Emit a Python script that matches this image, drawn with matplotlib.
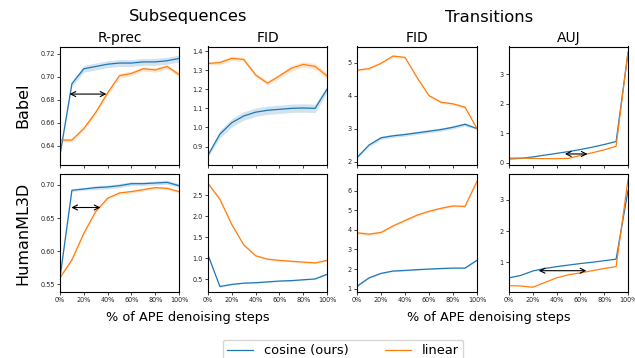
import numpy as np
import matplotlib
matplotlib.use("Agg")
import matplotlib.pyplot as plt
from matplotlib.ticker import FuncFormatter, FixedLocator

# ---------------- data ----------------
steps = [0, 10, 20, 30, 40, 50, 60, 70, 80, 90, 100]
series_names = ["cosine (ours)", "linear"]
col_titles = ["R-prec", "FID", "FID", "AUJ"]
row_titles = ["Babel", "HumanML3D"]
group_titles = ["Subsequences", "Transitions"]
xlabel_text = "% of APE denoising steps"

# Babel
babel_rprec_cos = [0.632, 0.694, 0.707, 0.709, 0.711, 0.712, 0.712, 0.713, 0.713, 0.714, 0.716]
babel_rprec_lin = [0.645, 0.645, 0.655, 0.669, 0.686, 0.701, 0.703, 0.707, 0.706, 0.709, 0.702]
babel_rprec_cos_sd = [0.001, 0.002, 0.003, 0.003, 0.003, 0.003, 0.003, 0.003, 0.003, 0.003, 0.003]
babel_rprec_lin_sd = [0.0015, 0.0015, 0.002, 0.002, 0.002, 0.002, 0.002, 0.002, 0.002, 0.002, 0.002]

babel_sfid_cos = [0.855, 0.965, 1.025, 1.060, 1.080, 1.090, 1.095, 1.100, 1.102, 1.100, 1.200]
babel_sfid_lin = [1.335, 1.340, 1.362, 1.356, 1.275, 1.232, 1.270, 1.310, 1.330, 1.320, 1.270]
babel_sfid_cos_sd = [0.010, 0.020, 0.022, 0.022, 0.022, 0.022, 0.022, 0.022, 0.022, 0.022, 0.018]
babel_sfid_lin_sd = [0.008, 0.010, 0.012, 0.010, 0.010, 0.010, 0.012, 0.015, 0.015, 0.015, 0.015]

babel_tfid_cos = [2.12, 2.50, 2.72, 2.78, 2.82, 2.87, 2.92, 2.97, 3.04, 3.13, 3.00]
babel_tfid_lin = [4.77, 4.82, 4.98, 5.20, 5.16, 4.55, 4.00, 3.80, 3.75, 3.65, 3.00]
babel_tfid_cos_sd = [0.03, 0.05, 0.05, 0.05, 0.05, 0.05, 0.05, 0.05, 0.05, 0.05, 0.03]
babel_tfid_lin_sd = [0.03, 0.03, 0.03, 0.04, 0.03, 0.03, 0.03, 0.04, 0.04, 0.04, 0.03]

babel_auj_cos = [0.13, 0.15, 0.20, 0.26, 0.32, 0.38, 0.45, 0.53, 0.62, 0.72, 3.72]
babel_auj_lin = [0.16, 0.16, 0.15, 0.14, 0.14, 0.15, 0.25, 0.34, 0.44, 0.56, 3.76]

# HumanML3D
hml_rprec_cos = [0.560, 0.692, 0.694, 0.696, 0.697, 0.699, 0.702, 0.702, 0.703, 0.704, 0.699]
hml_rprec_lin = [0.560, 0.587, 0.627, 0.660, 0.680, 0.688, 0.690, 0.693, 0.696, 0.695, 0.690]
hml_rprec_cos_sd = [0.001, 0.002, 0.002, 0.003, 0.003, 0.003, 0.003, 0.003, 0.003, 0.003, 0.003]
hml_rprec_lin_sd = [0.001, 0.002, 0.002, 0.002, 0.002, 0.002, 0.002, 0.002, 0.002, 0.002, 0.002]

hml_sfid_cos = [1.08, 0.33, 0.38, 0.41, 0.42, 0.44, 0.46, 0.47, 0.49, 0.51, 0.62]
hml_sfid_lin = [2.78, 2.40, 1.80, 1.32, 1.06, 0.98, 0.95, 0.93, 0.91, 0.89, 0.95]
hml_sfid_cos_sd = [0.01, 0.01, 0.01, 0.01, 0.01, 0.01, 0.01, 0.01, 0.01, 0.01, 0.01]
hml_sfid_lin_sd = [0.03, 0.03, 0.02, 0.02, 0.02, 0.02, 0.02, 0.02, 0.02, 0.02, 0.02]

hml_tfid_cos = [1.12, 1.55, 1.78, 1.90, 1.93, 1.97, 2.00, 2.03, 2.05, 2.05, 2.45]
hml_tfid_lin = [3.85, 3.78, 3.87, 4.20, 4.48, 4.75, 4.95, 5.10, 5.22, 5.20, 6.48]
hml_tfid_cos_sd = [0.03, 0.03, 0.03, 0.03, 0.03, 0.03, 0.03, 0.03, 0.03, 0.03, 0.03]
hml_tfid_lin_sd = [0.06, 0.08, 0.05, 0.05, 0.05, 0.05, 0.05, 0.05, 0.05, 0.05, 0.05]

hml_auj_cos = [0.50, 0.58, 0.72, 0.80, 0.86, 0.91, 0.96, 1.00, 1.05, 1.10, 3.30]
hml_auj_lin = [0.25, 0.24, 0.20, 0.35, 0.50, 0.60, 0.66, 0.73, 0.80, 0.86, 3.65]

# arrows: (x_start, x_end, y)
arrow_babel_rprec = (8, 39, 0.685)
arrow_babel_auj = (47, 66, 0.30)
arrow_hml_rprec = (9.5, 34, 0.666)
arrow_hml_auj = (25, 65, 0.73)

# y axis settings
ylims = [[(0.6237, 0.7264), (0.806, 1.424), (1.91, 5.49), (-0.057, 3.94)],
         [(0.5384, 0.7166), (0.20, 3.00), (0.83, 6.85), (0.047, 3.83)]]
yticks = [[[0.64, 0.66, 0.68, 0.70, 0.72], [0.9, 1.0, 1.1, 1.2, 1.3, 1.4], [2, 3, 4, 5], [0, 1, 2, 3]],
          [[0.55, 0.60, 0.65, 0.70], [0.5, 1.0, 1.5, 2.0, 2.5], [1, 2, 3, 4, 5, 6], [1, 2, 3]]]
yfmt = [["{:.2f}", "{:.1f}", "{:.0f}", "{:.0f}"],
        ["{:.2f}", "{:.1f}", "{:.0f}", "{:.0f}"]]
xticks = [0, 20, 40, 60, 80, 100]

panels = [
    [(babel_rprec_cos, babel_rprec_lin, babel_rprec_cos_sd, babel_rprec_lin_sd, arrow_babel_rprec),
     (babel_sfid_cos, babel_sfid_lin, babel_sfid_cos_sd, babel_sfid_lin_sd, None),
     (babel_tfid_cos, babel_tfid_lin, babel_tfid_cos_sd, babel_tfid_lin_sd, None),
     (babel_auj_cos, babel_auj_lin, None, None, arrow_babel_auj)],
    [(hml_rprec_cos, hml_rprec_lin, hml_rprec_cos_sd, hml_rprec_lin_sd, arrow_hml_rprec),
     (hml_sfid_cos, hml_sfid_lin, hml_sfid_cos_sd, hml_sfid_lin_sd, None),
     (hml_tfid_cos, hml_tfid_lin, hml_tfid_cos_sd, hml_tfid_lin_sd, None),
     (hml_auj_cos, hml_auj_lin, None, None, arrow_hml_auj)],
]

# ---------------- layout ----------------
W, H = 635, 358
fig = plt.figure(figsize=(W / 100, H / 100), dpi=100)
col_px = [(60, 179), (208, 327), (357, 477), (509, 628)]
row_px = [(46.5, 164.5), (174, 292)]

C_COS = "#1f77b4"
C_LIN = "#ff7f0e"
tick_fs = 4.7

lines_for_legend = None
for r in range(2):
    for c in range(4):
        x0, x1 = col_px[c]
        y0, y1 = row_px[r]
        ax = fig.add_axes([x0 / W, 1 - y1 / H, (x1 - x0) / W, (y1 - y0) / H])
        cos, lin, cos_sd, lin_sd, arr = panels[r][c]
        x = np.array(steps, dtype=float)
        l1, = ax.plot(x, cos, color=C_COS, lw=0.9)
        l2, = ax.plot(x, lin, color=C_LIN, lw=0.9)
        if cos_sd is not None:
            ax.fill_between(x, np.array(cos) - np.array(cos_sd), np.array(cos) + np.array(cos_sd),
                            color=C_COS, alpha=0.2, lw=0)
            ax.fill_between(x, np.array(lin) - np.array(lin_sd), np.array(lin) + np.array(lin_sd),
                            color=C_LIN, alpha=0.2, lw=0)
        if lines_for_legend is None:
            lines_for_legend = (l1, l2)
        if arr is not None:
            ax.annotate("", xy=(arr[0], arr[2]), xytext=(arr[1], arr[2]),
                        arrowprops=dict(arrowstyle="<->", color="black", lw=0.8,
                                        shrinkA=0, shrinkB=0, mutation_scale=9))
        ax.set_xlim(0, 100)
        ax.set_ylim(*ylims[r][c])
        ax.xaxis.set_major_locator(FixedLocator(xticks))
        ax.yaxis.set_major_locator(FixedLocator(yticks[r][c]))
        fmt = yfmt[r][c]
        ax.yaxis.set_major_formatter(FuncFormatter(lambda v, p, f=fmt: f.format(v)))
        if r == 1:
            ax.xaxis.set_major_formatter(FuncFormatter(lambda v, p: f"{int(round(v))}%"))
        else:
            ax.set_xticklabels([])
        ax.tick_params(labelsize=tick_fs, length=2.2, width=0.6, pad=1.5, colors="#222222")
        for s in ax.spines.values():
            s.set_linewidth(0.8)
        if r == 0:
            ax.set_title(col_titles[c], fontsize=10, pad=3)

# group titles
fig.text(188 / W, 1 - 17 / H, group_titles[0], ha="center", va="center", fontsize=11.8)
fig.text(489 / W, 1 - 17 / H, group_titles[1], ha="center", va="center", fontsize=11.8)
# x labels
fig.text(188 / W, 1 - 317 / H, xlabel_text, ha="center", va="center", fontsize=9.3)
fig.text(489 / W, 1 - 317 / H, xlabel_text, ha="center", va="center", fontsize=9.3)
# row labels
fig.text(23 / W, 1 - 105.5 / H, row_titles[0], ha="center", va="center", rotation=90, fontsize=11.5)
fig.text(23 / W, 1 - 233 / H, row_titles[1], ha="center", va="center", rotation=90, fontsize=11.5)

fig.legend(lines_for_legend, series_names, loc="upper center",
           bbox_to_anchor=(343 / W, 1 - 333 / H), ncol=2, fontsize=9.4,
           columnspacing=2.8, frameon=True, fancybox=True, borderpad=0.35)

fig.savefig("out.png", dpi=100)
